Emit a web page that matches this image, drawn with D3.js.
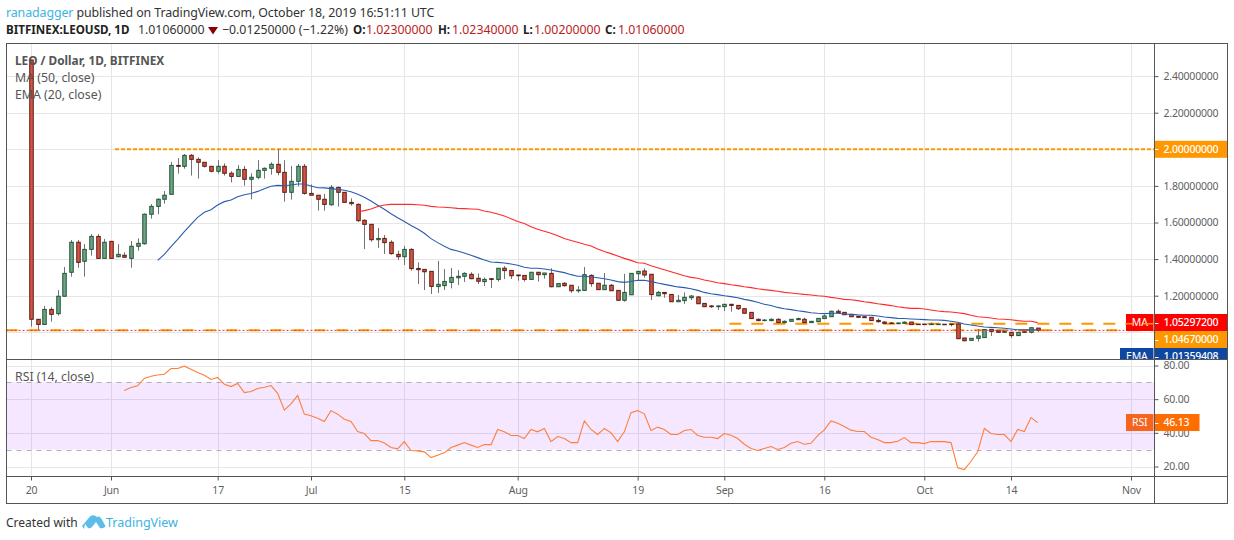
<!DOCTYPE html>
<html>
<head>
<meta charset="utf-8">
<script src="https://cdn.jsdelivr.net/npm/d3@7"></script>
<style>
html, body { margin: 0; padding: 0; background: #fff; }
svg { display: block; }
text { font-family: "Noto Sans", sans-serif; }
</style>
</head>
<body>
<script>
// first candle is 20 May 2019, one candle per day
var firstDay = new Date(Date.UTC(2019, 4, 20));

var opens = [
    2.488,1.071,1.043,1.125,1.102,1.197,1.328,1.492,1.388,1.453,
    1.524,1.404,1.497,1.413,1.421,1.404,1.470,1.484,1.645,1.688,
    1.727,1.754,1.912,1.907,1.967,1.945,1.929,1.907,1.880,1.907,
    1.869,1.852,1.890,1.836,1.847,1.885,1.896,1.918,1.874,1.765,
    1.825,1.907,1.759,1.749,1.727,1.697,1.792,1.765,1.710,1.699,
    1.612,1.590,1.506,1.513,1.492,1.426,1.413,1.453,1.349,1.344,
    1.333,1.250,1.255,1.273,1.298,1.306,1.317,1.295,1.277,1.293,
    1.289,1.350,1.338,1.313,1.311,1.289,1.328,1.315,1.322,1.249,
    1.268,1.257,1.227,1.229,1.311,1.268,1.233,1.257,1.229,1.175,
    1.205,1.320,1.335,1.317,1.200,1.218,1.207,1.167,1.173,1.189,
    1.193,1.158,1.144,1.140,1.140,1.153,1.147,1.129,1.109,1.071,
    1.064,1.064,1.071,1.053,1.060,1.069,1.071,1.053,1.058,1.075,
    1.085,1.115,1.109,1.098,1.087,1.085,1.082,1.065,1.056,1.051,
    1.047,1.049,1.056,1.045,1.045,1.042,1.042,1.044,1.045,1.045,
    0.969,0.956,0.967,0.971,1.016,1.009,1.000,1.000,0.982,1.003,
    1.000,1.023];

var highs = [
    2.488,1.071,1.144,1.136,1.231,1.357,1.504,1.504,1.482,1.537,
    1.537,1.510,1.497,1.482,1.437,1.499,1.513,1.650,1.701,1.732,
    1.772,1.931,1.952,1.974,1.974,1.956,1.929,1.907,1.941,1.923,
    1.880,1.914,1.909,1.869,1.941,1.901,1.929,2.000,1.941,1.909,
    1.920,1.920,1.808,1.749,1.756,1.805,1.796,1.765,1.732,1.705,
    1.617,1.590,1.570,1.532,1.503,1.446,1.472,1.459,1.382,1.344,
    1.333,1.390,1.346,1.351,1.340,1.328,1.328,1.322,1.300,1.293,
    1.350,1.362,1.338,1.313,1.311,1.328,1.328,1.324,1.350,1.266,
    1.273,1.257,1.253,1.357,1.317,1.268,1.324,1.264,1.229,1.319,
    1.322,1.333,1.350,1.317,1.226,1.218,1.207,1.204,1.218,1.204,
    1.198,1.158,1.147,1.147,1.153,1.153,1.147,1.129,1.109,1.076,
    1.071,1.076,1.076,1.065,1.071,1.080,1.080,1.060,1.076,1.098,
    1.118,1.125,1.109,1.098,1.087,1.087,1.082,1.076,1.060,1.056,
    1.053,1.060,1.056,1.045,1.045,1.053,1.045,1.044,1.045,1.048,
    0.969,0.967,1.018,1.018,1.016,1.009,1.005,1.000,1.000,1.003,
    1.027,1.0234];

var lows = [
    1.031,1.012,1.043,1.058,1.091,1.197,1.304,1.353,1.304,1.419,
    1.404,1.404,1.404,1.410,1.410,1.353,1.446,1.479,1.621,1.645,
    1.703,1.754,1.867,1.894,1.856,1.840,1.900,1.874,1.867,1.856,
    1.819,1.852,1.801,1.727,1.836,1.840,1.861,1.858,1.714,1.725,
    1.798,1.752,1.749,1.665,1.665,1.692,1.687,1.710,1.692,1.604,
    1.455,1.495,1.461,1.428,1.424,1.395,1.368,1.337,1.264,1.231,
    1.209,1.215,1.231,1.240,1.258,1.275,1.290,1.264,1.253,1.242,
    1.277,1.291,1.291,1.282,1.277,1.289,1.277,1.293,1.246,1.249,
    1.249,1.216,1.216,1.229,1.249,1.233,1.233,1.227,1.175,1.167,
    1.205,1.286,1.299,1.176,1.195,1.189,1.167,1.167,1.155,1.176,
    1.156,1.140,1.133,1.122,1.116,1.113,1.122,1.104,1.075,1.060,
    1.060,1.060,1.053,1.049,1.060,1.067,1.053,1.053,1.058,1.075,
    1.085,1.104,1.096,1.085,1.080,1.078,1.064,1.053,1.047,1.045,
    1.045,1.049,1.042,1.040,1.040,1.040,1.040,1.040,1.032,0.965,
    0.950,0.956,0.949,0.971,0.980,0.998,0.998,0.969,0.982,0.998,
    0.994,1.002];

var closes = [
    1.071,1.043,1.125,1.098,1.197,1.322,1.492,1.382,1.453,1.524,
    1.404,1.492,1.404,1.426,1.410,1.470,1.486,1.645,1.688,1.727,
    1.749,1.912,1.907,1.967,1.945,1.929,1.907,1.880,1.907,1.869,
    1.852,1.890,1.836,1.847,1.885,1.896,1.918,1.874,1.765,1.825,
    1.907,1.759,1.749,1.727,1.699,1.792,1.765,1.710,1.703,1.610,
    1.590,1.506,1.513,1.490,1.430,1.413,1.453,1.348,1.342,1.331,
    1.251,1.262,1.278,1.300,1.306,1.322,1.293,1.279,1.289,1.289,
    1.350,1.337,1.309,1.309,1.289,1.328,1.315,1.324,1.249,1.266,
    1.255,1.227,1.231,1.315,1.266,1.233,1.257,1.227,1.175,1.218,
    1.322,1.333,1.313,1.206,1.218,1.211,1.167,1.175,1.191,1.198,
    1.156,1.140,1.140,1.144,1.153,1.147,1.129,1.104,1.075,1.064,
    1.067,1.071,1.053,1.060,1.071,1.075,1.053,1.060,1.076,1.089,
    1.115,1.107,1.096,1.085,1.082,1.080,1.064,1.058,1.049,1.049,
    1.051,1.055,1.042,1.042,1.042,1.045,1.045,1.042,1.042,0.965,
    0.954,0.967,0.980,1.015,1.005,1.000,1.005,0.982,1.000,1.000,
    1.025,1.0106];

// EMA 20 starts at candle 19
var emaStart = 19;
var emaValues = [
    1.393,1.426,1.468,1.508,1.550,1.590,1.628,1.656,1.670,1.696,
    1.714,1.723,1.741,1.752,1.758,1.770,1.785,1.798,1.803,1.801,
    1.805,1.810,1.810,1.799,1.790,1.789,1.785,1.781,1.776,1.768,
    1.754,1.738,1.717,1.694,1.672,1.648,1.626,1.605,1.584,1.564,
    1.541,1.512,1.490,1.470,1.453,1.444,1.433,1.421,1.408,1.395,
    1.384,1.382,1.379,1.373,1.366,1.355,1.350,1.350,1.346,1.340,
    1.333,1.326,1.315,1.306,1.306,1.302,1.298,1.293,1.286,1.277,
    1.273,1.278,1.284,1.284,1.277,1.269,1.262,1.255,1.248,1.244,
    1.238,1.229,1.218,1.211,1.206,1.200,1.195,1.189,1.180,1.173,
    1.164,1.153,1.146,1.136,1.129,1.124,1.118,1.113,1.107,1.104,
    1.102,1.104,1.104,1.100,1.098,1.095,1.093,1.093,1.089,1.084,
    1.080,1.076,1.075,1.073,1.071,1.069,1.067,1.067,1.065,1.060,
    1.055,1.045,1.040,1.034,1.029,1.027,1.025,1.022,1.018,1.014,
    1.013,1.013,1.0136];

// MA 50 starts at candle 49
var maStart = 49;
var maValues = [
    1.659,1.665,1.674,1.687,1.696,1.699,1.699,1.699,1.699,1.697,
    1.694,1.688,1.685,1.683,1.681,1.677,1.676,1.674,1.672,1.663,
    1.656,1.646,1.635,1.621,1.605,1.594,1.577,1.563,1.552,1.541,
    1.528,1.513,1.502,1.492,1.481,1.472,1.455,1.442,1.430,1.417,
    1.404,1.393,1.380,1.377,1.364,1.353,1.342,1.331,1.320,1.309,
    1.300,1.295,1.286,1.279,1.271,1.266,1.260,1.255,1.249,1.244,
    1.238,1.233,1.229,1.224,1.218,1.215,1.211,1.207,1.204,1.200,
    1.197,1.191,1.186,1.180,1.178,1.173,1.167,1.162,1.156,1.151,
    1.146,1.140,1.135,1.131,1.131,1.127,1.122,1.116,1.113,1.111,
    1.107,1.102,1.093,1.085,1.082,1.078,1.073,1.071,1.069,1.064,
    1.060,1.060,1.053];

// RSI 14 starts at candle 14
var rsiStart = 14;
var rsiValues = [
    65.1,66.9,67.9,72.3,73.6,74.4,74.8,78.2,78.2,79.6,
    77.8,75.8,74.2,71.7,72.9,68.9,67.5,69.3,63.9,64.5,
    66.3,67.1,68.1,63.5,53.5,57.2,62.2,51.1,50.1,48.7,
    46.7,53.2,51.1,48.1,46.7,40.8,39.6,35.4,35.4,34.0,
    31.3,30.5,34.8,29.5,29.3,28.7,25.3,26.7,28.1,31.3,
    32.7,34.2,32.7,31.3,33.0,33.0,42.0,40.6,38.4,38.4,
    36.6,42.0,40.6,42.6,34.8,37.8,36.6,34.2,34.2,47.1,
    42.0,39.0,42.6,40.0,34.8,40.6,52.0,53.2,51.3,41.4,
    43.4,42.0,39.0,39.0,41.4,42.0,38.4,37.4,37.4,36.6,
    39.6,38.6,36.6,33.2,30.7,29.5,30.7,31.9,30.1,31.3,
    33.8,34.8,33.2,33.8,38.4,41.8,47.1,45.7,43.7,41.6,
    40.8,40.8,37.4,36.0,34.2,34.2,35.0,37.2,34.2,34.2,
    33.6,34.8,34.8,34.8,34.2,19.2,18.2,23.1,28.7,42.6,
    39.6,39.0,39.0,34.8,42.0,40.8,49.1,46.1];

var priceTicks = [2.4, 2.2, 2.0, 1.8, 1.6, 1.4, 1.2, 1.0];
var rsiTicks = [80, 60, 40, 20];
var dateTicks = ["2019-05-20","2019-06-01","2019-06-17","2019-07-01","2019-07-15","2019-08-01",
		 "2019-08-19","2019-09-01","2019-09-16","2019-10-01","2019-10-14","2019-11-01"];
var dateLabels = ["20","Jun","17","Jul","15","Aug","19","Sep","16","Oct","14","Nov"];

var resistance = 2.0;
var resistanceFrom = "2019-06-01";
var upperLevel = 1.0467;
var upperLevelFrom = "2019-09-01";
var lowerLevel = 1.0106;
var maLast = 1.05297200;
var emaLast = 1.01359408;
var rsiLast = 46.13;

var left = 6.5, right = 1154.5, outer = 1227.5;
var top_y = 43.5, sep = 359.5, bottom = 476.5, foot = 503.5;

var x = d3.scaleUtc()
    .domain([firstDay, new Date(Date.UTC(2019, 10, 1))])
    .range([31, 1131]);
var y = d3.scaleLinear().domain([2, 1.2]).range([149.3, 295.7]);
var yr = d3.scaleLinear().domain([80, 20]).range([365.5, 466.5]);

function dayX(i){
    return x(d3.utcDay.offset(firstDay, i));
}
function dateX(s){
    return x(new Date(s + "T00:00:00Z"));
}

var svg = d3.select("body").append("svg")
    .attr("width", 1234)
    .attr("height", 540);

svg.append("rect").attr("width", 1234).attr("height", 540).attr("fill", "#fff");

var defs = svg.append("defs");
defs.append("clipPath").attr("id", "price-clip").append("rect")
    .attr("x", left).attr("y", top_y).attr("width", outer - left).attr("height", sep - top_y);
defs.append("clipPath").attr("id", "rsi-clip").append("rect")
    .attr("x", left).attr("y", sep).attr("width", right - left).attr("height", bottom - sep);

// header
var head1 = svg.append("text").attr("x", 6).attr("y", 17).attr("font-size", 12.4).attr("letter-spacing", -0.1).attr("fill", "#333");
head1.append("tspan").attr("fill", "#3BB3E4").text("ranadagger");
head1.append("tspan").text(" published on TradingView.com, October 18, 2019 16:51:11 UTC");

var head2 = svg.append("g").attr("fill", "#333").attr("font-size", 12.3);
function headText(hx, s, bold, color){
    var t = head2.append("text").attr("x", hx).attr("y", 34).text(s);
    if (bold) t.attr("font-weight", "bold").attr("font-size", 11.6).attr("fill", "#222");
    if (color) t.attr("fill", color);
}
headText(6, "BITFINEX:LEOUSD, 1D", true);
headText(138, "1.01060000");
head2.append("path").attr("d", "M208,27 L218,27 L213,34.5 Z").attr("fill", "#8B0000");
headText(222, "\u22120.01250000 (\u22121.22%)");
headText(353, "O:", true);
headText(366, "1.02300000", false, "#B71C1C");
headText(438, "H:", true);
headText(452, "1.02340000", false, "#B71C1C");
headText(523, "L:", true);
headText(534, "1.00200000", false, "#B71C1C");
headText(605, "C:", true);
headText(618, "1.01060000", false, "#B71C1C");

// gridlines
var grid = svg.append("g").attr("stroke", "#e6e6e6").attr("stroke-width", 1);
dateTicks.forEach(function(d){
    var gx = Math.round(dateX(d)) + 0.5;
    grid.append("line").attr("x1", gx).attr("x2", gx).attr("y1", top_y).attr("y2", bottom);
});
priceTicks.forEach(function(d){
    var gy = Math.round(y(d)) + 0.5;
    grid.append("line").attr("x1", left).attr("x2", right).attr("y1", gy).attr("y2", gy);
});
rsiTicks.forEach(function(d){
    var gy = Math.round(yr(d)) + 0.5;
    grid.append("line").attr("x1", left).attr("x2", right).attr("y1", gy).attr("y2", gy);
});

// horizontal levels
var levels = svg.append("g").attr("clip-path", "url(#price-clip)").attr("fill", "none");
levels.append("line")
    .attr("x1", dateX(resistanceFrom) + 4).attr("x2", right)
    .attr("y1", y(resistance)).attr("y2", y(resistance))
    .attr("stroke", "#FF9800").attr("stroke-width", 2).attr("stroke-dasharray", "4 2");
levels.append("line")
    .attr("x1", left).attr("x2", right)
    .attr("y1", y(lowerLevel)).attr("y2", y(lowerLevel))
    .attr("stroke", "#FF9800").attr("stroke-width", 2).attr("stroke-dasharray", "11 11");
levels.append("line")
    .attr("x1", dateX(upperLevelFrom) + 5).attr("x2", right)
    .attr("y1", y(upperLevel)).attr("y2", y(upperLevel))
    .attr("stroke", "#FF9800").attr("stroke-width", 2).attr("stroke-dasharray", "12 10");

// candles
var candles = d3.range(closes.length);
var g = svg.append("g").attr("clip-path", "url(#price-clip)");
g.selectAll("line.wick").data(candles).enter().append("line")
    .attr("class", "wick")
    .attr("x1", function(i){ return Math.round(dayX(i)) + 0.5; })
    .attr("x2", function(i){ return Math.round(dayX(i)) + 0.5; })
    .attr("y1", function(i){ return y(highs[i]); })
    .attr("y2", function(i){ return y(lows[i]); })
    .attr("stroke", "#737375").attr("stroke-width", 1);
g.selectAll("rect.body").data(candles).enter().append("rect")
    .attr("class", "body")
    .attr("x", function(i){ return Math.round(dayX(i)) - 1.25; })
    .attr("width", 3.5)
    .attr("y", function(i){ return y(Math.max(opens[i], closes[i])); })
    .attr("height", function(i){ return Math.max(0.5, Math.abs(y(opens[i]) - y(closes[i]))); })
    .attr("fill", function(i){ return closes[i] >= opens[i] ? "#6BA583" : "#D75442"; })
    .attr("stroke", function(i){ return closes[i] >= opens[i] ? "#225437" : "#5B1A13"; })
    .attr("stroke-width", 1);

// moving averages
function series(vals, start, scale){
    return d3.line()
	.x(function(d, i){ return dayX(start + i); })
	.y(function(d){ return scale(d); })(vals);
}
g.append("path").attr("d", series(emaValues, emaStart, y))
    .attr("fill", "none").attr("stroke", "#2A5CAE").attr("stroke-width", 1.1);
g.append("path").attr("d", series(maValues, maStart, y))
    .attr("fill", "none").attr("stroke", "#FF2A2A").attr("stroke-width", 1.1);

// last price line
g.append("line")
    .attr("x1", left).attr("x2", right)
    .attr("y1", y(lowerLevel)).attr("y2", y(lowerLevel))
    .attr("stroke", "#E53935").attr("stroke-width", 1).attr("stroke-dasharray", "2 2");

// rsi band and line
var rg = svg.append("g").attr("clip-path", "url(#rsi-clip)");
rg.append("rect")
    .attr("x", left).attr("width", right - left)
    .attr("y", yr(70)).attr("height", yr(30) - yr(70))
    .attr("fill", "#9915FF").attr("fill-opacity", 0.1);
[70, 30].forEach(function(d){
    rg.append("line").attr("x1", left).attr("x2", right)
	.attr("y1", Math.round(yr(d)) + 0.5).attr("y2", Math.round(yr(d)) + 0.5)
	.attr("stroke", "#b5acbb").attr("stroke-dasharray", "5 5");
});
rg.append("path").attr("d", series(rsiValues, rsiStart, yr))
    .attr("fill", "none").attr("stroke", "#FF7F3A").attr("stroke-width", 1.1);

// pane legends
var legend = svg.append("g").attr("font-size", 12.3).attr("fill", "#555");
legend.append("text").attr("x", 15).attr("y", 65).attr("font-weight", "bold").attr("font-size", 11.8).text("LEO / Dollar, 1D, BITFINEX");
legend.append("text").attr("x", 15).attr("y", 82).text("MA (50, close)");
legend.append("text").attr("x", 15).attr("y", 99).text("EMA (20, close)");
legend.append("text").attr("x", 15).attr("y", 381).text("RSI (14, close)");

// axes
function styleAxis(a){
    a.attr("font-family", null).attr("font-size", 10.5);
    a.select(".domain").remove();
    a.selectAll("line").attr("stroke", "#555");
    a.selectAll("text").attr("fill", "#5f5f5f").attr("letter-spacing", -0.2);
}
// 2.0 and 1.0 sit under the value tags, only their ticks show
svg.append("g").attr("transform", "translate(" + right + ",0)")
    .call(d3.axisRight(y).tickValues(priceTicks)
	  .tickFormat(function(d){ return (d == 2 || d == 1) ? "" : d3.format(".8f")(d); })
	  .tickSize(4).tickPadding(5))
    .call(styleAxis);
svg.append("g").attr("transform", "translate(" + right + ",0)")
    .call(d3.axisRight(yr).tickValues(rsiTicks).tickFormat(d3.format(".2f")).tickSize(4).tickPadding(5))
    .call(styleAxis);
svg.append("g").attr("transform", "translate(0," + bottom + ")")
    .call(d3.axisBottom(x)
	  .tickValues(dateTicks.map(function(d){ return new Date(d + "T00:00:00Z"); }))
	  .tickFormat(function(d, i){ return dateLabels[i]; })
	  .tickSize(4).tickPadding(6))
    .call(styleAxis);

// value tags, the ones on the axis get a white tick and text at the axis text position
function tag(yc, h, color, label, bx, bw, clip){
    var t = svg.append("g");
    if (clip) t.attr("clip-path", "url(#" + clip + ")");
    var onAxis = bx == right;
    t.append("rect").attr("x", bx).attr("y", yc - h / 2).attr("width", bw).attr("height", h).attr("fill", color);
    t.append("text")
	.attr("x", onAxis ? right + 9 : bx + bw / 2)
	.attr("y", yc).attr("dy", "0.35em")
	.attr("text-anchor", onAxis ? "start" : "middle")
	.attr("font-size", 10.5).attr("letter-spacing", -0.2)
	.attr("font-weight", onAxis ? 500 : 400)
	.attr("fill", "#fff").text(label);
    if (onAxis){
	t.append("line").attr("x1", right).attr("x2", right + 4).attr("y1", Math.round(yc) + 0.5).attr("y2", Math.round(yc) + 0.5)
	    .attr("stroke", "#fff");
    }
    return t;
}
tag(y(resistance), 17, "#FF9800", "2.00000000", right, outer - right);
tag(322.5, 17, "#FF0000", d3.format(".8f")(maLast), right, outer - right);
tag(322.5, 17, "#FF0000", "MA", 1126, 27.5);
tag(339.5, 17, "#FF9800", d3.format(".8f")(upperLevel), right, outer - right);
tag(356.5, 17, "#0D47A1", d3.format(".8f")(emaLast), right, outer - right, "price-clip");
tag(356.5, 17, "#0D47A1", "EMA", 1120, 33.5, "price-clip");
tag(yr(rsiLast), 17, "#F5651F", "RSI", 1126, 27.5);
tag(yr(rsiLast), 17, "#FF6D00", rsiLast.toFixed(2), right, 45);

// the upper level runs over the MA tag
svg.append("line").attr("x1", 1126).attr("x2", right)
    .attr("y1", y(upperLevel)).attr("y2", y(upperLevel))
    .attr("stroke", "#FF9800").attr("stroke-width", 1.5).attr("stroke-dasharray", "12 10").attr("stroke-dashoffset", 5);

// frame
var frame = svg.append("g").attr("stroke", "#555").attr("stroke-width", 1).attr("fill", "none");
frame.append("rect").attr("x", left).attr("y", top_y).attr("width", outer - left).attr("height", foot - top_y);
frame.append("line").attr("x1", left).attr("x2", outer).attr("y1", sep).attr("y2", sep);
frame.append("line").attr("x1", left).attr("x2", outer).attr("y1", bottom).attr("y2", bottom);
frame.append("line").attr("x1", right).attr("x2", right).attr("y1", top_y).attr("y2", foot);

// footer
svg.append("text").attr("x", 6).attr("y", 527).attr("font-size", 12).attr("fill", "#333").text("Created with");
var logo = svg.append("g");
logo.append("path")
    .attr("d", "M82,526 L90,516.5 Q93.5,514 97,517 Q99,515.5 101,518 L105.5,526 Q104,529 100,528 L96,522 L92,527 Q90,529 88,528 L85,524 L84,529 Z")
    .attr("fill", "#5CBDE8");
svg.append("text").attr("x", 106).attr("y", 527).attr("font-size", 12.5).attr("fill", "#3BB3E4").text("TradingView");
</script>
</body>
</html>
